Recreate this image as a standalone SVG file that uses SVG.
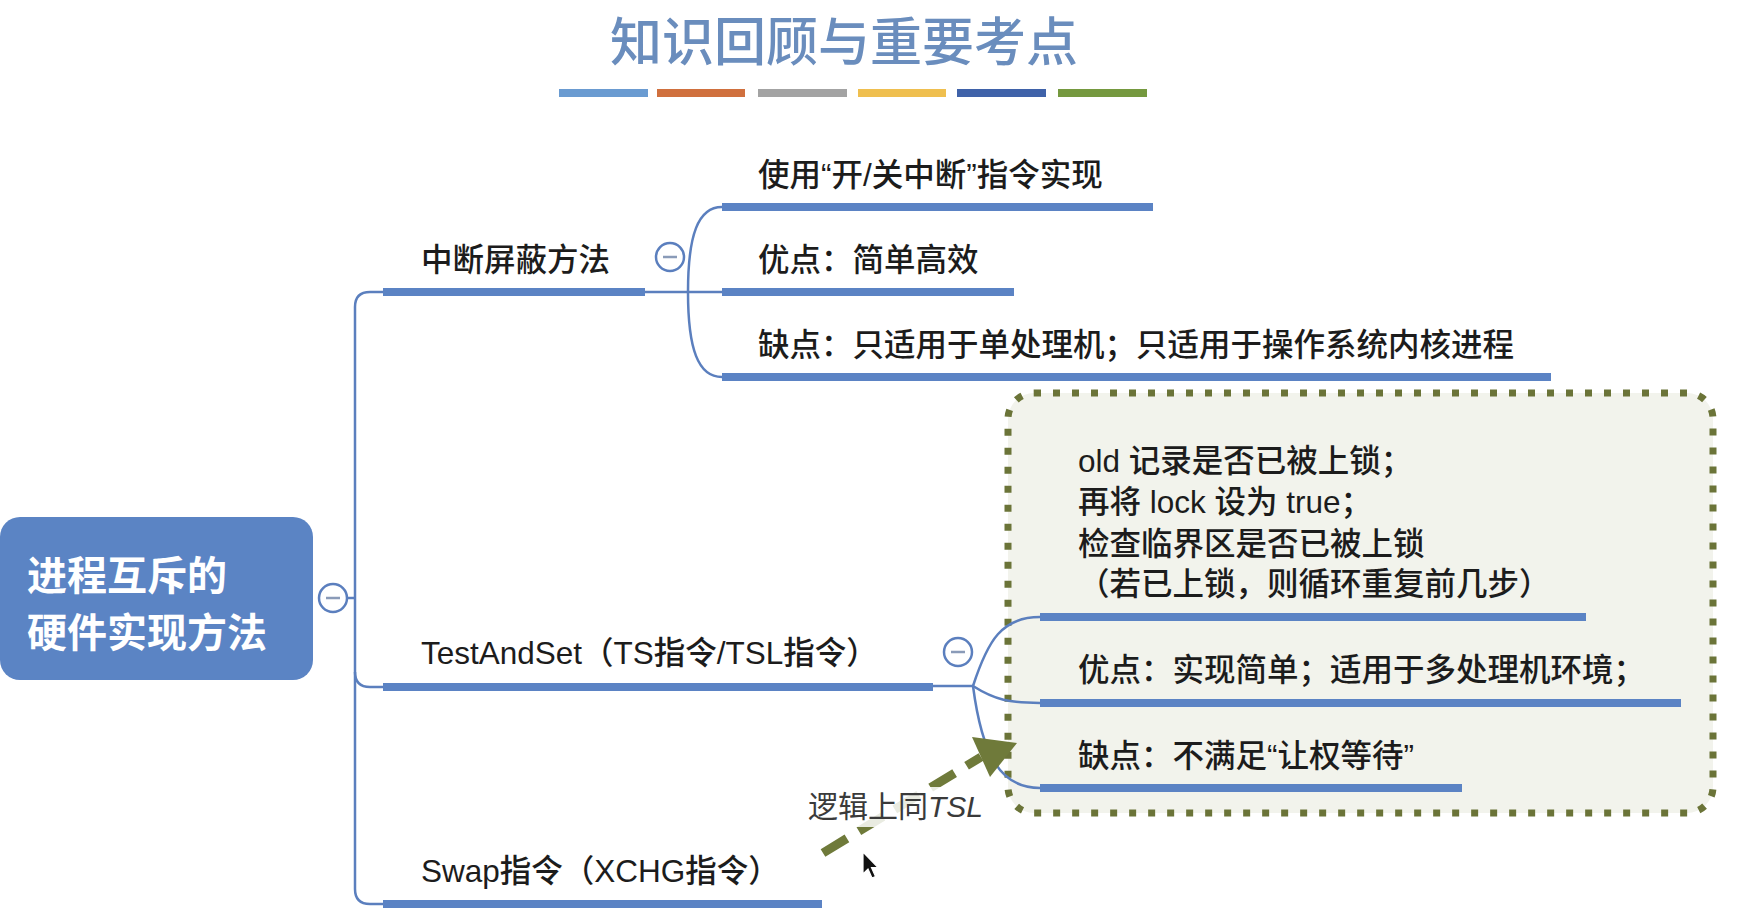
<svg xmlns="http://www.w3.org/2000/svg" width="1750" height="920" viewBox="0 0 1750 920">
  <style>
    text { font-family: "Liberation Sans", "Noto Sans CJK SC", sans-serif; }
    .title { font-family: "Noto Sans CJK SC", sans-serif; font-size: 52px; fill: #6a8dbd; font-weight: 500; }
    .root-text { font-family: "Noto Sans CJK SC", sans-serif; font-size: 40px; fill: #ffffff; font-weight: 700; }
    .label { font-size: 31.5px; fill: #1c1c1c; font-weight: 500; }
    .note { font-size: 30px; fill: #3a3a3a; }
    .underline { stroke: #5b83c4; stroke-width: 8; fill: none; }
    .conn { stroke: #5b7fbe; stroke-width: 2.5; fill: none; }
    .toggle circle { fill: #ffffff; stroke: #5b7fbe; stroke-width: 2.5; }
    .toggle line { stroke: #8a9bb8; stroke-width: 2.5; }
    .boundary { fill: #f2f3ec; stroke: #6b7438; stroke-width: 7; stroke-dasharray: 7 12; }
  </style>

  <rect x="0" y="0" width="1750" height="920" fill="#ffffff"/>

  <!-- heading -->
  <g id="heading">
    <text class="title" x="610" y="61">知识回顾与重要考点</text>
    <rect x="559" y="89" width="89" height="8" fill="#6a9bd1"/>
    <rect x="657" y="89" width="88" height="8" fill="#d0703e"/>
    <rect x="758" y="89" width="89" height="8" fill="#a3a3a3"/>
    <rect x="858" y="89" width="88" height="8" fill="#efbf4f"/>
    <rect x="957" y="89" width="89" height="8" fill="#3f62a9"/>
    <rect x="1058" y="89" width="89" height="8" fill="#75993f"/>
  </g>

  <!-- boundary around the TestAndSet details -->
  <g id="tsl-boundary">
    <rect class="boundary" x="1008" y="393" width="705" height="420" rx="26" ry="26"/>
  </g>

  <!-- connectors -->
  <g id="connectors">
    <line class="conn" x1="347" y1="598" x2="355" y2="598"/>
    <path class="conn" d="M383,292 L370,292 Q355,292 355,307 L355,889 Q355,904 370,904 L383,904"/>
    <path class="conn" d="M355,672 Q355,687 370,687 L383,687"/>
    <!-- 中断屏蔽方法 fork -->
    <line class="conn" x1="645" y1="292" x2="722" y2="292"/>
    <path class="conn" d="M688,292 C688,235 698,207 722,207"/>
    <path class="conn" d="M688,292 C688,349 698,377 722,377"/>
    <!-- TestAndSet fork -->
    <line class="conn" x1="933" y1="686" x2="973" y2="686"/>
    <path class="conn" d="M973,686 C988,640 1002,617 1040,617"/>
    <path class="conn" d="M973,686 C995,700 1010,703 1040,703"/>
    <path class="conn" d="M973,686 C982,755 1000,788 1040,788"/>
  </g>

  <!-- root -->
  <g id="root">
    <rect x="0" y="517" width="313" height="163" rx="20" ry="20" fill="#5b84c4"/>
    <text class="root-text" x="27" y="590">进程互斥的</text>
    <text class="root-text" x="27" y="647">硬件实现方法</text>
    <g class="toggle"><circle cx="333" cy="598" r="14"/><line x1="326" y1="598" x2="340" y2="598"/></g>
  </g>

  <!-- 中断屏蔽方法 -->
  <g id="node-interrupt">
    <text class="label" x="421" y="271">中断屏蔽方法</text>
    <line class="underline" x1="383" y1="292" x2="645" y2="292"/>
    <g class="toggle"><circle cx="670" cy="257" r="14"/><line x1="663" y1="257" x2="677" y2="257"/></g>
  </g>
  <g id="node-interrupt-impl">
    <text class="label" x="758" y="186">使用“开/关中断”指令实现</text>
    <line class="underline" x1="722" y1="207" x2="1153" y2="207"/>
  </g>
  <g id="node-interrupt-pro">
    <text class="label" x="758" y="271">优点：简单高效</text>
    <line class="underline" x1="722" y1="292" x2="1014" y2="292"/>
  </g>
  <g id="node-interrupt-con">
    <text class="label" x="758" y="356">缺点：只适用于单处理机；只适用于操作系统内核进程</text>
    <line class="underline" x1="722" y1="377" x2="1551" y2="377"/>
  </g>

  <!-- TestAndSet -->
  <g id="node-tsl">
    <text class="label" x="421" y="664">TestAndSet（TS指令/TSL指令）</text>
    <line class="underline" x1="383" y1="687" x2="933" y2="687"/>
    <g class="toggle"><circle cx="958" cy="652" r="14"/><line x1="951" y1="652" x2="965" y2="652"/></g>
  </g>
  <g id="node-tsl-steps">
    <text class="label" x="1078" y="472">old 记录是否已被上锁；</text>
    <text class="label" x="1078" y="513">再将 lock 设为 true；</text>
    <text class="label" x="1078" y="555">检查临界区是否已被上锁</text>
    <text class="label" x="1078" y="595">（若已上锁，则循环重复前几步）</text>
    <line class="underline" x1="1040" y1="617" x2="1586" y2="617"/>
  </g>
  <g id="node-tsl-pro">
    <text class="label" x="1078" y="681">优点：实现简单；适用于多处理机环境；</text>
    <line class="underline" x1="1040" y1="703" x2="1681" y2="703"/>
  </g>
  <g id="node-tsl-con">
    <text class="label" x="1078" y="767">缺点：不满足“让权等待”</text>
    <line class="underline" x1="1040" y1="788" x2="1462" y2="788"/>
  </g>

  <!-- Swap -->
  <g id="node-swap">
    <text class="label" x="421" y="882">Swap指令（XCHG指令）</text>
    <line class="underline" x1="383" y1="904" x2="822" y2="904"/>
  </g>

  <!-- relation: Swap is logically the same as TSL -->
  <g id="relation">
    <line x1="823" y1="853" x2="981" y2="757" stroke="#6f7a3a" stroke-width="9" stroke-dasharray="28 14"/>
    <polygon points="1017,743 972,737 990,777" fill="#6f7a3a"/>
    <rect x="803" y="787" width="186" height="40" fill="#ffffff" fill-opacity="0.85"/>
    <text class="note" x="808" y="817">逻辑上同<tspan font-style="italic">TSL</tspan></text>
  </g>

  <!-- pointer -->
  <g id="pointer">
    <path d="M863,852 L863,874 L868,869 L872,878 L875.5,876.5 L871.5,867.5 L878,867.5 Z" fill="#111111" stroke="#ffffff" stroke-width="1.2"/>
  </g>
</svg>
